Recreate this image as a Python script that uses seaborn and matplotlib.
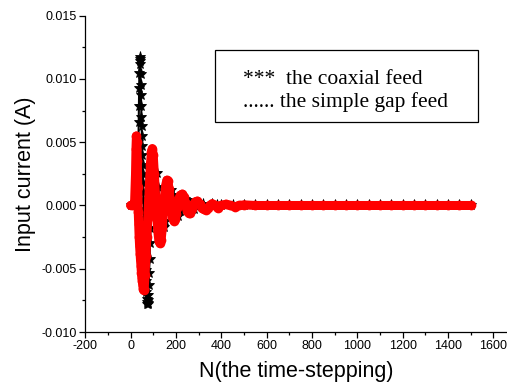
import pandas as pd
import seaborn as sns
import matplotlib.pyplot as plt
from matplotlib.patches import Rectangle

sns.set_theme(style="ticks")
plt.rcParams["font.family"] = ["Liberation Sans", "DejaVu Sans"]

# simple gap feed (red circles)
gap_n = [0, 10, 18, 22, 24, 26, 28, 30, 32, 34, 36, 38, 40, 42, 44, 46, 48, 50,
         52, 54, 56, 58, 60, 64, 68, 72, 76, 80, 84, 88, 92, 96, 100, 105, 110,
         115, 120, 125, 130, 135, 140, 145, 150, 155, 160, 165, 170, 175, 180,
         185, 190, 195, 200, 205, 210, 215, 220, 228, 235, 240, 245, 250, 256,
         262, 270, 278, 286, 295, 305, 315, 325, 332, 340, 350, 360, 372, 384,
         400, 420, 440, 460, 480, 500, 550, 600, 650, 700, 750, 800, 850, 900,
         950, 1000, 1050, 1100, 1150, 1200, 1250, 1300, 1350, 1400, 1450, 1500]
gap_i = [0.0, 0.0, 0.0003, 0.0025, 0.0045, 0.0055, 0.0050, 0.0035, 0.0015,
         -0.0005, -0.0015, -0.0025, -0.0032, -0.0038, -0.0043, -0.0048,
         -0.0053, -0.0057, -0.0060, -0.0063, -0.0066, -0.0067, -0.0066,
         -0.0055, -0.0040, -0.0025, -0.0010, 0.0005, 0.0020, 0.0033, 0.0042,
         0.0045, 0.0040, 0.0025, 0.0008, -0.0008, -0.0020, -0.0028, -0.0030,
         -0.0027, -0.0018, -0.0005, 0.0008, 0.0016, 0.0020, 0.0019, 0.0013,
         0.0005, -0.0003, -0.0009, -0.0012, -0.0011, -0.0007, -0.0002, 0.0002,
         0.0006, 0.0008, 0.0009, 0.0007, 0.0003, -0.0001, -0.0004, -0.0006,
         -0.0006, -0.0003, 0.0001, 0.0003, 0.00035, 0.0001, -0.0002, -0.0003,
         -0.00034, -0.0002, 0.0, 0.00015, 0.0, -0.0002, 0.0, 0.0001, 0.0,
         -0.0001, 0.0, 0.00005, 0.0, 0.0, 0.0, 0.0, 0.0, 0.0, 0.0, 0.0, 0.0,
         0.0, 0.0, 0.0, 0.0, 0.0, 0.0, 0.0, 0.0, 0.0, 0.0, 0.0]

# coaxial feed (black stars)
coax_n = [0, 10, 20, 28, 31, 33, 35, 36, 37, 38, 39, 40, 41, 42, 43, 44, 45,
          46, 47, 48, 49, 50, 51, 52, 53, 54, 55, 56, 57, 58, 59, 60, 61, 62,
          63, 64, 65, 66, 67, 68, 69, 70, 71, 72, 73, 74, 75, 76, 77, 78, 80,
          82, 84, 86, 88, 90, 92, 96, 100, 108, 115, 122, 130, 138, 146, 154,
          162, 170, 178, 186, 194, 202, 210, 220, 230, 240, 250, 260, 270, 280,
          290, 300, 320, 340, 360, 380, 400, 450, 500, 550, 600, 650, 700, 750,
          800, 850, 900, 950, 1000, 1050, 1100, 1150, 1200, 1250, 1300, 1350,
          1400, 1450, 1500]
coax_i = [0.0, 0.0, 0.0, 0.0, 0.0008, 0.0025, 0.0050, 0.0066, 0.0079, 0.0093,
          0.0105, 0.0114, 0.0117, 0.0116, 0.0112, 0.0104, 0.0095, 0.0087,
          0.0079, 0.0070, 0.0063, 0.0055, 0.0047, 0.0040, 0.0032, 0.0025,
          0.0018, 0.0011, 0.0004, -0.0003, -0.0010, -0.0017, -0.0023, -0.0029,
          -0.0035, -0.0041, -0.0046, -0.0051, -0.0056, -0.0060, -0.0064,
          -0.0068, -0.0071, -0.0074, -0.0076, -0.0078, -0.0078, -0.0077,
          -0.0075, -0.0071, -0.0063, -0.0053, -0.0042, -0.0030, -0.0018,
          -0.0006, 0.0004, 0.0015, 0.0020, 0.0026, 0.0026, 0.0015, 0.0,
          -0.0012, -0.0017, -0.0012, 0.0, 0.0010, 0.0012, 0.0008, 0.0, -0.0006,
          -0.0008, -0.0004, 0.0002, 0.0005, 0.0004, 0.0, -0.0003, -0.0003, 0.0,
          0.0002, 0.0001, -0.0001, 0.0001, 0.0, 0.0, 0.0, 0.0, 0.0, 0.0, 0.0,
          0.0, 0.0, 0.0, 0.0, 0.0, 0.0, 0.0, 0.0, 0.0, 0.0, 0.0, 0.0, 0.0, 0.0,
          0.0, 0.0, 0.0]

x_ticks = [-200, 0, 200, 400, 600, 800, 1000, 1200, 1400, 1600]
y_ticks = [-0.010, -0.005, 0.000, 0.005, 0.010, 0.015]

coax = pd.DataFrame({"N": coax_n, "I": coax_i})
gap = pd.DataFrame({"N": gap_n, "I": gap_i})

fig = plt.figure(figsize=(5.07, 3.92), dpi=100)
ax = fig.add_axes([0.168, 0.153, 0.832, 0.807])

sns.lineplot(data=coax, x="N", y="I", ax=ax, color="black", linewidth=1.5,
             marker="*", markersize=8, markeredgewidth=0.6,
             markeredgecolor="black", sort=False, estimator=None)
sns.lineplot(data=gap, x="N", y="I", ax=ax, color="red", linewidth=6.5,
             marker="o", markersize=7, markeredgewidth=0,
             sort=False, estimator=None)

ax.set_xlim(-200, 1660)
ax.set_ylim(-0.010, 0.015)
ax.set_xticks(x_ticks)
ax.set_xticklabels([str(t) for t in x_ticks])
ax.set_yticks(y_ticks)
ax.set_yticklabels([f"{t:.3f}" for t in y_ticks])
ax.set_xticks(range(-100, 1700, 200), minor=True)
ax.set_yticks([-0.0075, -0.0025, 0.0025, 0.0075, 0.0125], minor=True)
ax.tick_params(which="major", length=4, width=0.9, labelsize=9, color="black",
               labelcolor="black", pad=2)
ax.tick_params(which="minor", length=2.5, width=0.9, color="black")
sns.despine(ax=ax)
for s in ["left", "bottom"]:
    ax.spines[s].set_color("black")
    ax.spines[s].set_linewidth(0.9)

ax.set_xlabel("N(the time-stepping)", fontsize=15.5, color="black", labelpad=6)
ax.set_ylabel("Input current (A)", fontsize=15.5, color="black", labelpad=4)

# legend box drawn as text
ax.add_patch(Rectangle((0.308, 0.664), 0.623, 0.228, transform=ax.transAxes,
                       fill=False, edgecolor="black", linewidth=0.9))
ax.text(0.374, 0.797, "***  the coaxial feed", transform=ax.transAxes,
        family="Liberation Serif", fontsize=15.5, va="center", color="black")
ax.text(0.374, 0.727, "...... the simple gap feed", transform=ax.transAxes,
        family="Liberation Serif", fontsize=15.5, va="center", color="black")

fig.savefig("out.png", dpi=100)
